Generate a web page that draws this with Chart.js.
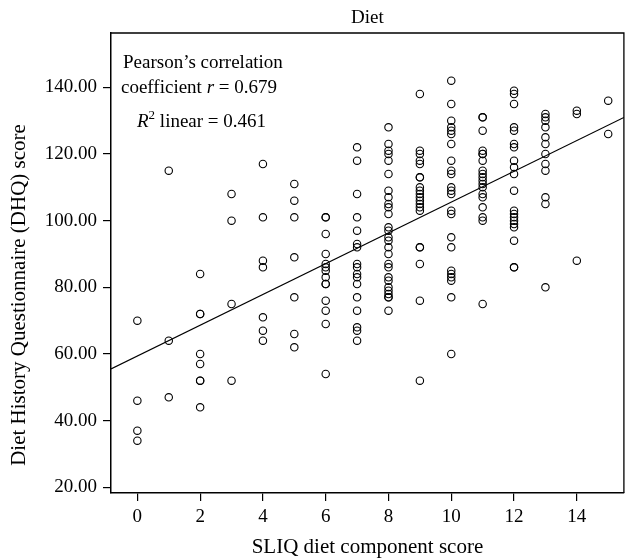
<!DOCTYPE html>
<html>
<head>
<meta charset="utf-8">
<script src="https://cdn.jsdelivr.net/npm/chart.js@4"></script>
<style>
  html, body { margin: 0; padding: 0; background: #fff; }
  #wrap { width: 629px; height: 560px; }
</style>
</head>
<body>
<div id="wrap"><canvas id="chart"></canvas></div>
<script>
// SLIQ diet component score levels (x) and DHQ scores read at each level (y)
const sliqLevels = [0, 1, 2, 3, 4, 5, 6, 7, 8, 9, 10, 11, 12, 13, 14, 15];
const dhqValues = [
    [70, 46, 37, 34],
    [115, 64, 47],
    [84, 72, 72, 60, 57, 52, 52, 44],
    [108, 100, 75, 52],
    [117, 101, 88, 86, 71, 67, 64],
    [111, 106, 101, 89, 77, 66, 62],
    [101, 101, 96, 90, 87, 86, 85, 83, 81, 81, 76, 73, 69, 54],
    [122, 118, 108, 101, 97, 93, 92, 87, 86, 84, 83, 81, 77, 73, 68, 67, 64],
    [128, 123, 121, 120, 118, 114, 109, 107, 105, 104, 102, 98, 97, 95, 94, 92, 90, 87, 86, 83, 82, 80, 79, 78, 77, 77, 73],
    [138, 121, 120, 118, 117, 113, 113, 110, 109, 108, 107, 106, 105, 104, 103, 92, 92, 87, 76, 52],
    [142, 135, 130, 128, 127, 126, 123, 118, 115, 114, 110, 109, 108, 103, 102, 95, 92, 85, 84, 83, 82, 77, 60],
    [131, 131, 127, 121, 120, 120, 118, 115, 114, 113, 112, 111, 110, 108, 107, 104, 101, 100, 75],
    [139, 138, 135, 128, 127, 123, 122, 118, 116, 114, 109, 103, 102, 101, 100, 99, 98, 94, 86, 86],
    [132, 131, 130, 128, 125, 123, 120, 117, 115, 107, 105, 80],
    [133, 132, 88],
    [136, 126]
];

const xTicks = [0, 2, 4, 6, 8, 10, 12, 14];
const yTicks = [20, 40, 60, 80, 100, 120, 140];
const xRange = [-0.84, 15.5];
const yRange = [18.3, 156.3];

const chartTitle = 'Diet';
const xTitle = 'SLIQ diet component score';
const yTitle = 'Diet History Questionnaire (DHQ) score';
const pearsonR = '0.679';
const rSquared = '0.461';

const SERIF = "'Liberation Serif', 'Times New Roman', serif";

// flatten into points
const points = [];
sliqLevels.forEach((lvl, i) => {
    dhqValues[i].forEach(v => points.push({ x: lvl, y: v }));
});

// least squares fit line
const n = points.length;
const mx = points.reduce((s, p) => s + p.x, 0) / n;
const my = points.reduce((s, p) => s + p.y, 0) / n;
let sxy = 0, sxx = 0;
points.forEach(p => { sxy += (p.x - mx) * (p.y - my); sxx += (p.x - mx) * (p.x - mx); });
const slope = sxy / sxx;
const intercept = my - slope * mx;
const fitLine = xRange.map(x => ({ x: x, y: intercept + slope * x }));

// frame, titles and the text box are drawn on top of the chart
const decorations = {
    id: 'decorations',
    afterDraw(chart) {
        const ctx = chart.ctx;
        const a = chart.chartArea;
        ctx.save();
        ctx.strokeStyle = '#000';
        ctx.lineWidth = 1.3;
        ctx.beginPath();
        ctx.moveTo(a.left, a.top);
        ctx.lineTo(a.right, a.top);
        ctx.lineTo(a.right, a.bottom);
        ctx.stroke();

        ctx.fillStyle = '#000';
        ctx.textBaseline = 'alphabetic';
        ctx.textAlign = 'center';
        ctx.font = '19px ' + SERIF;
        ctx.fillText(chartTitle, (a.left + a.right) / 2, 23);

        ctx.font = '21px ' + SERIF;
        ctx.fillText(xTitle, (a.left + a.right) / 2, 553);

        ctx.save();
        ctx.translate(25, 295);
        ctx.rotate(-Math.PI / 2);
        ctx.fillText(yTitle, 0, 0);
        ctx.restore();

        // correlation text
        ctx.textAlign = 'left';
        const run = (parts, x, y) => {
            parts.forEach(p => {
                ctx.font = p[1];
                ctx.fillText(p[0], x, y + (p[2] || 0));
                x += ctx.measureText(p[0]).width;
            });
        };
        const reg = '19px ' + SERIF;
        const ital = 'italic 19px ' + SERIF;
        run([['Pearson\u2019s correlation', reg]], a.left + 12, 68);
        run([['coefficient ', reg], ['r', ital], [' = ' + pearsonR, reg]], a.left + 10, 93);
        run([['R', ital], ['2', '13px ' + SERIF, -8], [' linear = ' + rSquared, reg]], a.left + 26, 127);
        ctx.restore();
    }
};

new Chart(document.getElementById('chart'), {
    type: 'scatter',
    data: {
        datasets: [{
            label: 'DHQ score',
            data: points,
            pointStyle: 'circle',
            pointRadius: 3.7,
            pointBorderWidth: 1.1,
            pointBorderColor: '#000',
            pointBackgroundColor: 'rgba(0,0,0,0)'
        }, {
            type: 'line',
            label: 'Fit',
            data: fitLine,
            borderColor: '#000',
            borderWidth: 1.2,
            pointRadius: 0,
            fill: false
        }]
    },
    options: {
        responsive: true,
        maintainAspectRatio: false,
        animation: false,
        layout: { padding: { top: 33, right: 0, left: 0, bottom: 0 } },
        plugins: {
            legend: { display: false },
            tooltip: { enabled: false }
        },
        scales: {
            x: {
                type: 'linear',
                min: xRange[0],
                max: xRange[1],
                afterBuildTicks: axis => { axis.ticks = xTicks.map(v => ({ value: v })); },
                afterFit: axis => { axis.height = 67; },
                ticks: {
                    color: '#000',
                    font: { family: SERIF, size: 19 },
                    padding: 5,
                    maxRotation: 0,
                    callback: v => String(v)
                },
                grid: { drawOnChartArea: false, drawTicks: true, tickLength: 8, color: '#000', lineWidth: 1.2 },
                border: { display: true, color: '#000', width: 1.5 }
            },
            y: {
                type: 'linear',
                min: yRange[0],
                max: yRange[1],
                afterBuildTicks: axis => { axis.ticks = yTicks.map(v => ({ value: v })); },
                afterFit: axis => { axis.width = 111; },
                ticks: {
                    color: '#000',
                    font: { family: SERIF, size: 19 },
                    padding: 6,
                    callback: v => Number(v).toFixed(2)
                },
                grid: { drawOnChartArea: false, drawTicks: true, tickLength: 8, color: '#000', lineWidth: 1.2 },
                border: { display: true, color: '#000', width: 1.5 }
            }
        }
    },
    plugins: [decorations]
});
</script>
</body>
</html>
